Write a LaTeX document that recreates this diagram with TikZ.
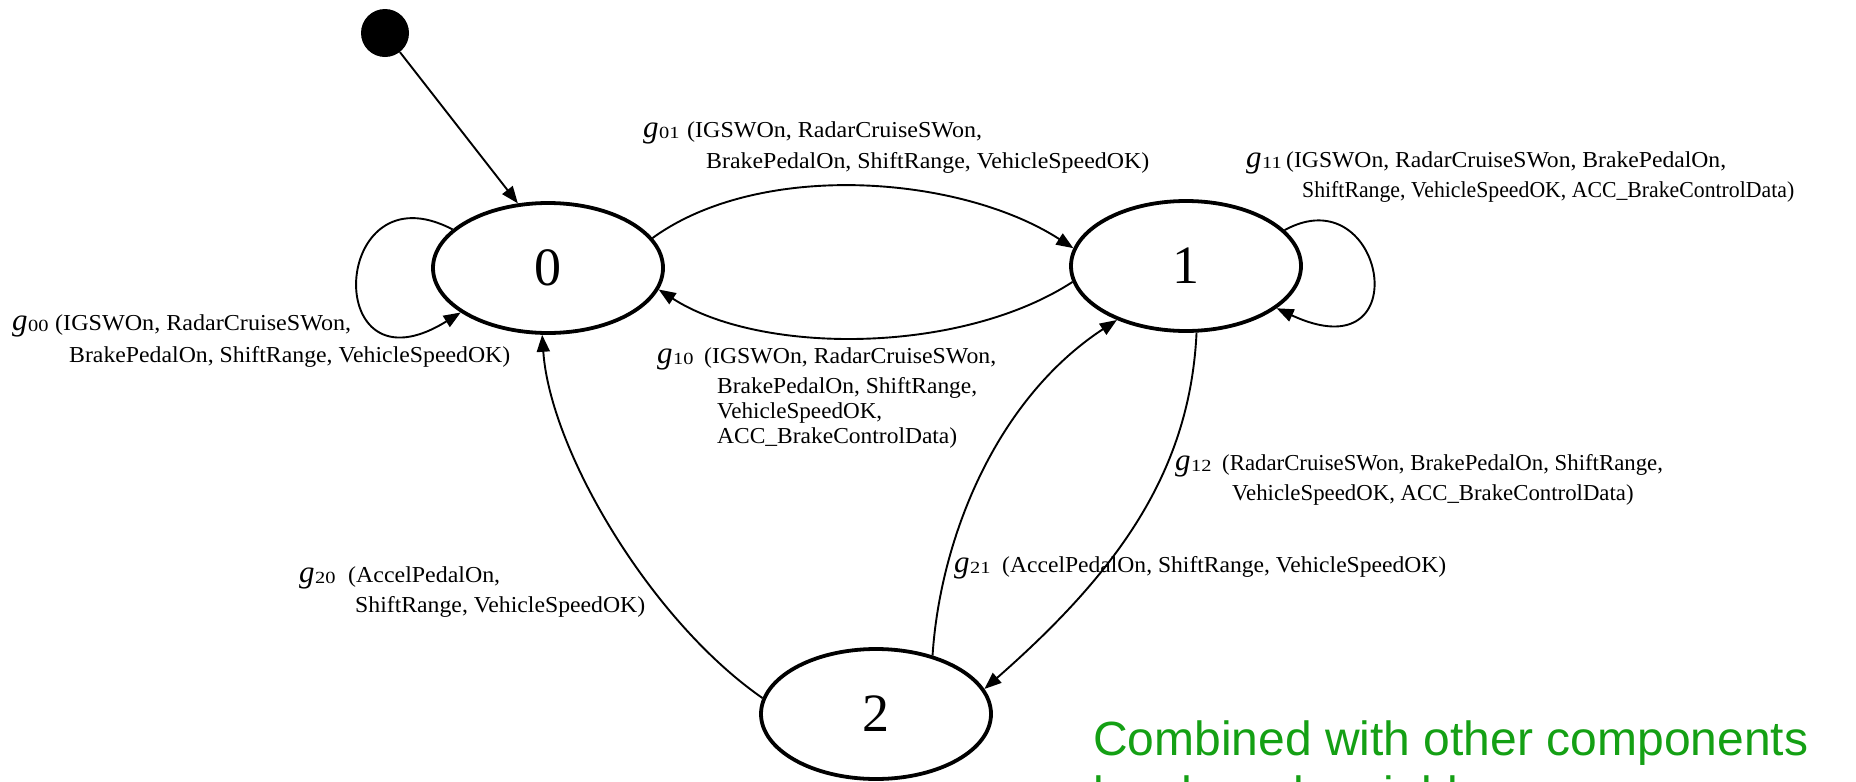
\documentclass[tikz,border=0pt]{standalone}
\usepackage{fontspec}
\usepackage{graphicx}
\setmainfont{Liberation Serif}
\newfontfamily\notefont{Liberation Sans}
\usetikzlibrary{arrows.meta,shapes.geometric}
\definecolor{notegreen}{RGB}{20,160,20}
% guard symbol g with its index, set in a box of given width
\newcommand\guard[2]{\makebox[#1pt][l]{{\fontsize{31}{31}\selectfont\itshape g}\kern0.5pt\raisebox{-1.5pt}{\fontsize{17}{17}\selectfont\scalebox{1.2}[1]{#2}}}}
% a line of guard text brought to a given width
\newcommand\fitw[2]{\resizebox{#1pt}{\height}{#2}}

\begin{document}
\begin{tikzpicture}[x=1pt,y=1pt,
  state/.style={draw, ellipse, line width=3.8pt, minimum width=230pt, minimum height=130pt,
                inner sep=0pt, font=\fontsize{54}{54}\selectfont},
  trans/.style={line width=1.9pt, -{Triangle[length=17pt,width=13pt]}},
  lbl/.style={anchor=base west, inner sep=0pt, font=\fontsize{22.8}{25}\selectfont},
  note/.style={anchor=base west, inner sep=0pt, text=notegreen, font=\notefont\fontsize{48}{55}\selectfont}]
\useasboundingbox (0,0) rectangle (1856,-782);
\fill[white] (0,0) rectangle (1856,-782);

% states
\node[state] (s0) at (548,-268) {0};
\node[state] (s1) at (1186,-266) {1};
\node[state] (s2) at (876,-714) {2};
\node[circle, fill=black, inner sep=0pt, minimum size=48pt] (init) at (385,-33) {};

% transitions
\draw[trans] (init) -- (s0.115);
\draw[trans] (s0.16) .. controls (760,-160) and (960,-175) .. (s1.171);
\draw[trans] (s1.188) .. controls (960,-355) and (760,-355) .. (s0.-11);
\draw[trans] (s0.158) .. controls (330,-165) and (320,-400) .. (s0.207);
\draw[trans] (s1.20) .. controls (1385,-175) and (1420,-375) .. (s1.-25);
\draw[trans] (s1.-81) .. controls (1190,-470) and (1120,-570) .. (s2.13);
\draw[trans] (s2.46) .. controls (940,-540) and (995,-400) .. (s1.-142);
\draw[trans] (s2.172) .. controls (650,-620) and (550,-450) .. (s0.-95);

% guards
\node[lbl] (g01a) at (643,-137) {\guard{44}{01}\fitw{295}{(IGSWOn, RadarCruiseSWon,}};
\node[lbl] (g01b) at (706,-168) {\fitw{443}{BrakePedalOn, ShiftRange, VehicleSpeedOK)}};

\node[lbl] (g11a) at (1246,-167) {\guard{40}{11}\fitw{440}{(IGSWOn, RadarCruiseSWon, BrakePedalOn,}};
\node[lbl] (g11b) at (1302,-197) {\fitw{492}{ShiftRange, VehicleSpeedOK, ACC\_BrakeControlData)}};

\node[lbl] (g00a) at (12,-330) {\guard{43}{00}\fitw{296}{(IGSWOn, RadarCruiseSWon,}};
\node[lbl] (g00b) at (69,-362) {\fitw{441}{BrakePedalOn, ShiftRange, VehicleSpeedOK)}};

\node[lbl] (g10a) at (657,-363) {\guard{47}{10}\fitw{292}{(IGSWOn, RadarCruiseSWon,}};
\node[lbl] (g10b) at (717,-393) {\fitw{260}{BrakePedalOn, ShiftRange,}};
\node[lbl] (g10c) at (717,-418) {\fitw{165}{VehicleSpeedOK,}};
\node[lbl] (g10d) at (717,-443) {\fitw{240}{ACC\_BrakeControlData)}};

\node[lbl] (g12a) at (1175,-470) {\guard{47}{12}(RadarCruiseSWon, BrakePedalOn, ShiftRange,};
\node[lbl] (g12b) at (1232,-500) {VehicleSpeedOK, ACC\_BrakeControlData)};

\node[lbl] (g21a) at (954,-572) {\guard{48}{21}\fitw{444}{(AccelPedalOn, ShiftRange, VehicleSpeedOK)}};

\node[lbl] (g20a) at (299,-582) {\guard{49}{20}\fitw{152}{(AccelPedalOn,}};
\node[lbl] (g20b) at (355,-612) {\fitw{290}{ShiftRange, VehicleSpeedOK)}};

% side note, its second line runs past the lower edge
\node[note] (notea) at (1093,-755) {Combined with other components};
\node[note] (noteb) at (1093,-810) {by shared variables};
\end{tikzpicture}
\end{document}
